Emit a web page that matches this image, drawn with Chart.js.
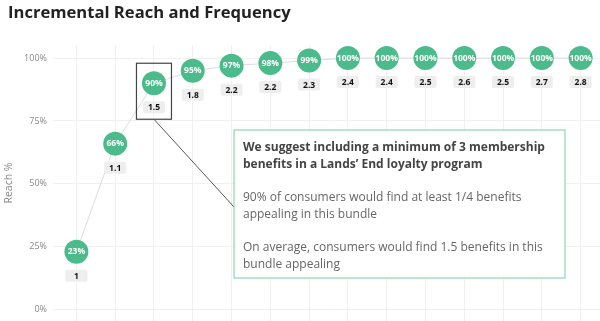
<!DOCTYPE html>
<html lang="en">

<head>
    <meta charset="utf-8">
    <script src="https://cdn.jsdelivr.net/npm/chart.js@4"></script>
    <style>
        body { margin: 0; background: #fff; overflow: hidden; }
        canvas { display: block; }
    </style>
</head>

<body>
    <canvas id="reachChart" width="600" height="321"></canvas>

    <script>
        // benefits in bundle (x categories)
        const categories = ["1", "2", "3", "4", "5", "6", "7", "8", "9", "10", "11", "12", "13", "14"];
        // reach % per bundle size
        const reach = [23, 66, 90, 95, 97, 98, 99, 100, 100, 100, 100, 100, 100, 100];
        // average number of appealing benefits
        const frequency = ["1", "1.1", "1.5", "1.8", "2.2", "2.2", "2.3", "2.4", "2.4", "2.5", "2.6", "2.5", "2.7", "2.8"];
        const yTicks = [0, 25, 50, 75, 100];

        const highlightIndex = 2;
        const calloutBold = ["We suggest including a minimum of 3 membership", "benefits in a Lands’ End loyalty program"];
        const calloutText = [
            ["90% of consumers would find at least 1/4 benefits", "appealing in this bundle"],
            ["On average, consumers would find 1.5 benefits in this", "bundle appealing"]
        ];

        const green = "#4cbb8b";
        const font = "'Open Sans', sans-serif";

        function roundRect(ctx, x, y, w, h, r) {
            ctx.beginPath();
            ctx.moveTo(x + r, y);
            ctx.lineTo(x + w - r, y);
            ctx.quadraticCurveTo(x + w, y, x + w, y + r);
            ctx.lineTo(x + w, y + h - r);
            ctx.quadraticCurveTo(x + w, y + h, x + w - r, y + h);
            ctx.lineTo(x + r, y + h);
            ctx.quadraticCurveTo(x, y + h, x, y + h - r);
            ctx.lineTo(x, y + r);
            ctx.quadraticCurveTo(x, y, x + r, y);
            ctx.closePath();
        }

        const labelsPlugin = {
            id: "labels",
            beforeDraw(chart) {
                const ctx = chart.ctx;
                ctx.save();
                ctx.fillStyle = "#222";
                ctx.font = "bold 16.6px " + font;
                ctx.textBaseline = "middle";
                ctx.fillText("Incremental Reach and Frequency", 8, 13);
                ctx.restore();
            },
            afterDatasetsDraw(chart) {
                const ctx = chart.ctx;
                const pts = chart.getDatasetMeta(0).data;
                ctx.save();
                ctx.textAlign = "center";
                ctx.textBaseline = "middle";
                pts.forEach((p, i) => {
                    ctx.fillStyle = "#fff";
                    ctx.font = "bold 8.5px " + font;
                    ctx.fillText(reach[i] + "%", p.x, p.y);
                    ctx.fillStyle = "#eeeeee";
                    roundRect(ctx, p.x - 11, p.y + 18, 22, 12, 2);
                    ctx.fill();
                    ctx.fillStyle = "#111";
                    ctx.font = "bold 8.5px " + font;
                    ctx.fillText(frequency[i], p.x, p.y + 24.5);
                });

                // highlight box around the recommended bundle
                const h = pts[highlightIndex];
                ctx.strokeStyle = "#444";
                ctx.lineWidth = 1.2;
                ctx.strokeRect(h.x - 17.5, h.y - 20, 35, 56);

                // callout
                const bx = 234, by = 130, bw = 331, bh = 148;
                ctx.beginPath();
                ctx.moveTo(h.x, h.y + 36);
                ctx.lineTo(bx, 207);
                ctx.strokeStyle = "#555";
                ctx.lineWidth = 1;
                ctx.stroke();

                ctx.fillStyle = "#fff";
                ctx.fillRect(bx, by, bw, bh);
                ctx.strokeStyle = "#8fd6b5";
                ctx.lineWidth = 1.2;
                ctx.strokeRect(bx, by, bw, bh);

                ctx.textAlign = "left";
                ctx.fillStyle = "#444";
                ctx.font = "bold 12px " + font;
                calloutBold.forEach((t, k) => ctx.fillText(t, 243, 148 + k * 17));
                ctx.fillStyle = "#666";
                ctx.font = "12px " + font;
                calloutText.forEach((para, j) => {
                    para.forEach((t, k) => ctx.fillText(t, 243, 198 + j * 50 + k * 17));
                });
                ctx.restore();
            }
        };

        new Chart(document.getElementById("reachChart"), {
            type: "line",
            data: {
                labels: categories,
                datasets: [{
                    data: reach,
                    borderColor: "#dddddd",
                    borderWidth: 1,
                    pointRadius: 12,
                    pointHoverRadius: 12,
                    pointBackgroundColor: green,
                    pointBorderWidth: 0,
                    clip: false
                }]
            },
            options: {
                responsive: false,
                animation: false,
                layout: { autoPadding: false, padding: { top: 45, left: 3, right: 0, bottom: 0 } },
                plugins: {
                    legend: { display: false },
                    tooltip: { enabled: false }
                },
                scales: {
                    x: {
                        offset: true,
                        grid: { color: "#f0f0f0", drawTicks: false },
                        border: { display: false },
                        ticks: { display: false },
                        afterFit(scale) { scale.height = 0; }
                    },
                    y: {
                        min: -4.5,
                        max: 105.2,
                        afterBuildTicks(scale) {
                            scale.ticks = yTicks.map(v => ({ value: v }));
                        },
                        afterFit(scale) {
                            scale.width = 54;
                            scale.paddingTop = 0;
                            scale.paddingBottom = 0;
                        },
                        grid: { color: "#f0f0f0", tickLength: 4 },
                        border: { display: false },
                        ticks: {
                            color: "#888",
                            font: { family: font, size: 9 },
                            padding: 6,
                            callback: v => v + "%"
                        },
                        title: {
                            display: true,
                            text: "Reach %",
                            color: "#888",
                            font: { family: font, size: 10.5 },
                            padding: 0
                        }
                    }
                }
            },
            plugins: [labelsPlugin]
        });
    </script>
</body>

</html>
